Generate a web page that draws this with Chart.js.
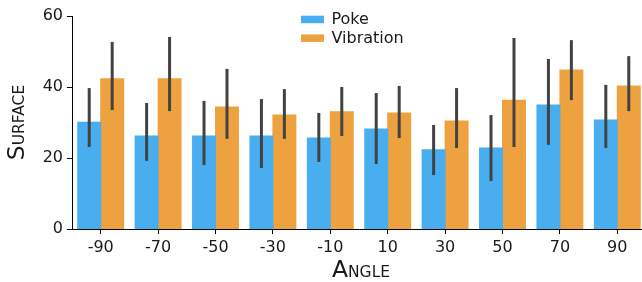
<!DOCTYPE html>
<html lang="en">
<head>
    <meta charset="UTF-8">
    <title>Surface by Angle</title>
    <script src="https://cdn.jsdelivr.net/npm/chart.js"></script>
    <style>
        html, body { margin: 0; padding: 0; background: #fff; overflow: hidden; }
        #wrap { width: 642px; height: 282px; overflow: hidden; }
    </style>
</head>
<body>
    <div id="wrap">
        <canvas id="surfaceChart" width="650" height="282"></canvas>
    </div>
    <script>
        const angles = ['-90', '-70', '-50', '-30', '-10', '10', '30', '50', '70', '90'];
        const yTicks = [0, 20, 40, 60];

        const poke     = [30.1, 26.2, 26.2, 26.2, 25.6, 28.2, 22.3, 22.8, 34.9, 30.7];
        const pokeLow  = [23.1, 19.2, 18.0, 17.2, 18.9, 18.3, 15.2, 13.5, 23.7, 22.8];
        const pokeHigh = [39.7, 35.5, 36.1, 36.6, 32.7, 38.3, 29.3, 32.1, 47.9, 40.6];

        const vibration     = [42.3, 42.3, 34.4, 32.1, 33.0, 32.7, 30.4, 36.3, 44.8, 40.3];
        const vibrationLow  = [33.5, 33.2, 25.4, 25.4, 26.2, 25.6, 22.8, 23.1, 36.3, 33.2];
        const vibrationHigh = [52.7, 54.1, 45.1, 39.4, 40.0, 40.3, 39.7, 53.8, 53.2, 48.7];

        const xTitle = 'Angle';
        const yTitle = 'Surface';

        const blue = '#48aef0';
        const orange = '#eea23f';
        const font = 'DejaVu Sans';
        const textColor = '#1a1a1a';

        // error bars drawn on top of each bar
        const errorBars = {
            id: 'errorBars',
            afterDatasetsDraw(chart) {
                const ctx = chart.ctx;
                const y = chart.scales.y;
                const ranges = [[pokeLow, pokeHigh], [vibrationLow, vibrationHigh]];
                ctx.save();
                ctx.strokeStyle = '#424242';
                ctx.lineWidth = 3;
                ranges.forEach((r, di) => {
                    chart.getDatasetMeta(di).data.forEach((bar, i) => {
                        ctx.beginPath();
                        ctx.moveTo(bar.x, y.getPixelForValue(r[0][i]));
                        ctx.lineTo(bar.x, y.getPixelForValue(r[1][i]));
                        ctx.stroke();
                    });
                });
                ctx.restore();
            }
        };

        // two-row legend near the top
        const stackedLegend = {
            id: 'stackedLegend',
            afterDraw(chart) {
                const ctx = chart.ctx;
                ctx.save();
                ctx.font = '16px ' + font;
                ctx.textBaseline = 'middle';
                chart.data.datasets.forEach((ds, i) => {
                    const top = 15.7 + i * 18.7;
                    ctx.fillStyle = ds.backgroundColor;
                    ctx.fillRect(301, top, 23, 7.5);
                    ctx.fillStyle = textColor;
                    ctx.fillText(ds.label, 331.5, top + 4.5);
                });
                ctx.restore();
            }
        };

        // small-caps style axis titles: big first letter, smaller capitals after
        function smallCaps(ctx, text, big, small) {
            const first = text[0].toUpperCase();
            const rest = text.slice(1).toUpperCase();
            ctx.font = big + 'px ' + font;
            const w1 = ctx.measureText(first).width;
            ctx.font = small + 'px ' + font;
            const w2 = ctx.measureText(rest).width;
            const start = -(w1 + w2) / 2;
            ctx.font = big + 'px ' + font;
            ctx.fillText(first, start, 0);
            ctx.font = small + 'px ' + font;
            ctx.fillText(rest, start + w1, 0);
        }

        const axisTitles = {
            id: 'axisTitles',
            afterDraw(chart) {
                const ctx = chart.ctx;
                const area = chart.chartArea;
                ctx.save();
                ctx.fillStyle = textColor;
                ctx.textBaseline = 'alphabetic';
                ctx.textAlign = 'left';
                ctx.save();
                ctx.translate(361, 277);
                smallCaps(ctx, xTitle, 23.5, 15.5);
                ctx.restore();
                ctx.save();
                ctx.translate(24, (area.top + area.bottom) / 2);
                ctx.rotate(-Math.PI / 2);
                smallCaps(ctx, yTitle, 23.5, 15.5);
                ctx.restore();
                ctx.restore();
            }
        };

        new Chart(document.getElementById('surfaceChart'), {
            type: 'bar',
            data: {
                labels: angles,
                datasets: [
                    { label: 'Poke', data: poke, backgroundColor: blue },
                    { label: 'Vibration', data: vibration, backgroundColor: orange }
                ]
            },
            options: {
                responsive: false,
                animation: false,
                layout: { padding: { top: 16, right: 4, left: 0, bottom: 0 } },
                datasets: {
                    bar: { categoryPercentage: 0.8, barPercentage: 1.0, borderWidth: 0, inflateAmount: 0.5 }
                },
                plugins: {
                    legend: { display: false },
                    tooltip: { enabled: false }
                },
                scales: {
                    x: {
                        grid: { display: true, offset: false, drawOnChartArea: false, drawTicks: true, tickLength: 5, color: '#000' },
                        border: { display: true, color: '#000', width: 1 },
                        ticks: { color: textColor, font: { family: font, size: 16 }, padding: 4, maxRotation: 0 },
                        afterFit(scale) { scale.height = 53; }
                    },
                    y: {
                        min: 0,
                        max: 60,
                        afterBuildTicks(scale) { scale.ticks = yTicks.map(v => ({ value: v })); },
                        grid: { display: true, drawOnChartArea: false, drawTicks: true, tickLength: 5, color: '#000' },
                        border: { display: true, color: '#000', width: 1 },
                        ticks: { color: textColor, font: { family: font, size: 16 }, padding: 4 },
                        afterFit(scale) { scale.width = 72; }
                    }
                }
            },
            plugins: [errorBars, stackedLegend, axisTitles]
        });
    </script>
</body>
</html>
